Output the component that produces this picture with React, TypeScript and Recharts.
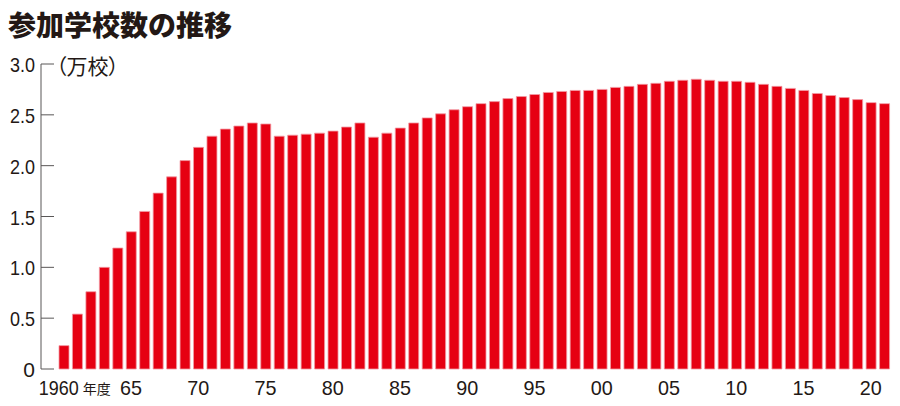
import React from "react";
import { BarChart, Bar, XAxis, YAxis } from "recharts";

// 年度
const years = [
  1960, 1961, 1962, 1963, 1964, 1965, 1966, 1967, 1968, 1969,
  1970, 1971, 1972, 1973, 1974, 1975, 1976, 1977, 1978, 1979,
  1980, 1981, 1982, 1983, 1984, 1985, 1986, 1987, 1988, 1989,
  1990, 1991, 1992, 1993, 1994, 1995, 1996, 1997, 1998, 1999,
  2000, 2001, 2002, 2003, 2004, 2005, 2006, 2007, 2008, 2009,
  2010, 2011, 2012, 2013, 2014, 2015, 2016, 2017, 2018, 2019,
  2020, 2021,
];

// 参加学校数（万校）
const schools = [
  0.23, 0.54, 0.76, 1.0, 1.19, 1.35, 1.55, 1.73, 1.89, 2.05,
  2.18, 2.29, 2.36, 2.39, 2.42, 2.41, 2.29, 2.3, 2.31, 2.32,
  2.34, 2.38, 2.42, 2.28, 2.32, 2.37, 2.42, 2.47, 2.51, 2.55,
  2.58, 2.61, 2.63, 2.66, 2.68, 2.7, 2.72, 2.73, 2.74, 2.74,
  2.75, 2.77, 2.78, 2.8, 2.81, 2.83, 2.84, 2.85, 2.84, 2.83,
  2.83, 2.82, 2.8, 2.78, 2.76, 2.74, 2.71, 2.69, 2.67, 2.65,
  2.62, 2.61,
];

const tickYears = [1960, 1965, 1970, 1975, 1980, 1985, 1990, 1995, 2000, 2005, 2010, 2015, 2020];
const tickLabels = ["1960", "65", "70", "75", "80", "85", "90", "95", "00", "05", "10", "15", "20"];

const yTicks = [0, 0.5, 1, 1.5, 2, 2.5, 3];

const data = years.map((year, i) => ({ year, schools: schools[i] }));

const INK = "#231815";
const AXIS = "#595757";
const NUM_FONT = "'Liberation Sans', Arial, sans-serif";
const JP_FONT = "'Noto Sans CJK JP', 'Noto Sans', sans-serif";

// digits in the original are a narrow face, so squeeze them a little
const XTick = (props: any) => {
  const { x, y, payload } = props;
  const idx = tickYears.indexOf(Number(payload.value));
  if (idx < 0) return <g />;
  const label = tickLabels[idx];
  if (idx === 0) {
    return (
      <g>
        <text
          x={x - 25}
          y={y + 26}
          textAnchor="start"
          fill={INK}
          fontFamily={NUM_FONT}
          fontSize={21}
          textLength={40}
          lengthAdjust="spacingAndGlyphs"
        >
          {label}
        </text>
        <text x={x + 19} y={y + 25} textAnchor="start" fill={INK} fontFamily={JP_FONT} fontSize={14}>
          年度
        </text>
      </g>
    );
  }
  return (
    <text
      x={x - 11}
      y={y + 26}
      textAnchor="start"
      fill={INK}
      fontFamily={NUM_FONT}
      fontSize={21}
      textLength={22}
      lengthAdjust="spacingAndGlyphs"
    >
      {label}
    </text>
  );
};

const YTick = (props: any) => {
  const { x, y, payload } = props;
  const v = Number(payload.value);
  const label = v === 0 ? "0" : v.toFixed(1);
  return (
    <g>
      <line x1={x + 6} x2={x + 19} y1={y} y2={y} stroke={AXIS} strokeWidth={1} />
      {v === 0 ? (
        <text x={x} y={y + 8} textAnchor="end" fill={INK} fontFamily={NUM_FONT} fontSize={21}>
          {label}
        </text>
      ) : (
        <text
          x={x - 25}
          y={y + 8}
          textAnchor="start"
          fill={INK}
          fontFamily={NUM_FONT}
          fontSize={21}
          textLength={25}
          lengthAdjust="spacingAndGlyphs"
        >
          {label}
        </text>
      )}
    </g>
  );
};

export default function App() {
  return (
    <div
      style={{
        position: "absolute",
        left: 0,
        top: 0,
        width: 900,
        height: 406,
        background: "#fff",
        overflow: "hidden",
      }}
    >
      <div
        style={{
          position: "absolute",
          left: 8,
          top: 9,
          fontFamily: JP_FONT,
          fontWeight: 900,
          fontSize: 28,
          lineHeight: "30px",
          color: INK,
          whiteSpace: "nowrap",
        }}
      >
        参加学校数の推移
      </div>
      <div
        style={{
          position: "absolute",
          left: 56,
          top: 53,
          fontFamily: JP_FONT,
          fontSize: 21,
          lineHeight: "24px",
          color: INK,
          fontFeatureSettings: "'palt'",
          whiteSpace: "nowrap",
        }}
      >
        （万校）
      </div>
      <BarChart
        width={900}
        height={406}
        data={data}
        margin={{ top: 64, right: 9, left: 0, bottom: 0 }}
        style={{ position: "absolute", left: 0, top: 0 }}
      >
        <XAxis
          dataKey="year"
          interval={0}
          height={37}
          axisLine={false}
          tickLine={false}
          tickSize={0}
          tickMargin={0}
          padding={{ left: 16, right: 0 }}
          tick={<XTick />}
        />
        <YAxis
          width={41}
          domain={[0, 3]}
          ticks={yTicks}
          interval={0}
          axisLine={{ stroke: AXIS, strokeWidth: 1 }}
          tickLine={false}
          tickSize={0}
          tickMargin={6}
          tick={<YTick />}
        />
        <Bar
          dataKey="schools"
          barSize={10}
          fill="#e60012"
          stroke="#f39aa5"
          strokeWidth={0.8}
          isAnimationActive={false}
        />
      </BarChart>
    </div>
  );
}
